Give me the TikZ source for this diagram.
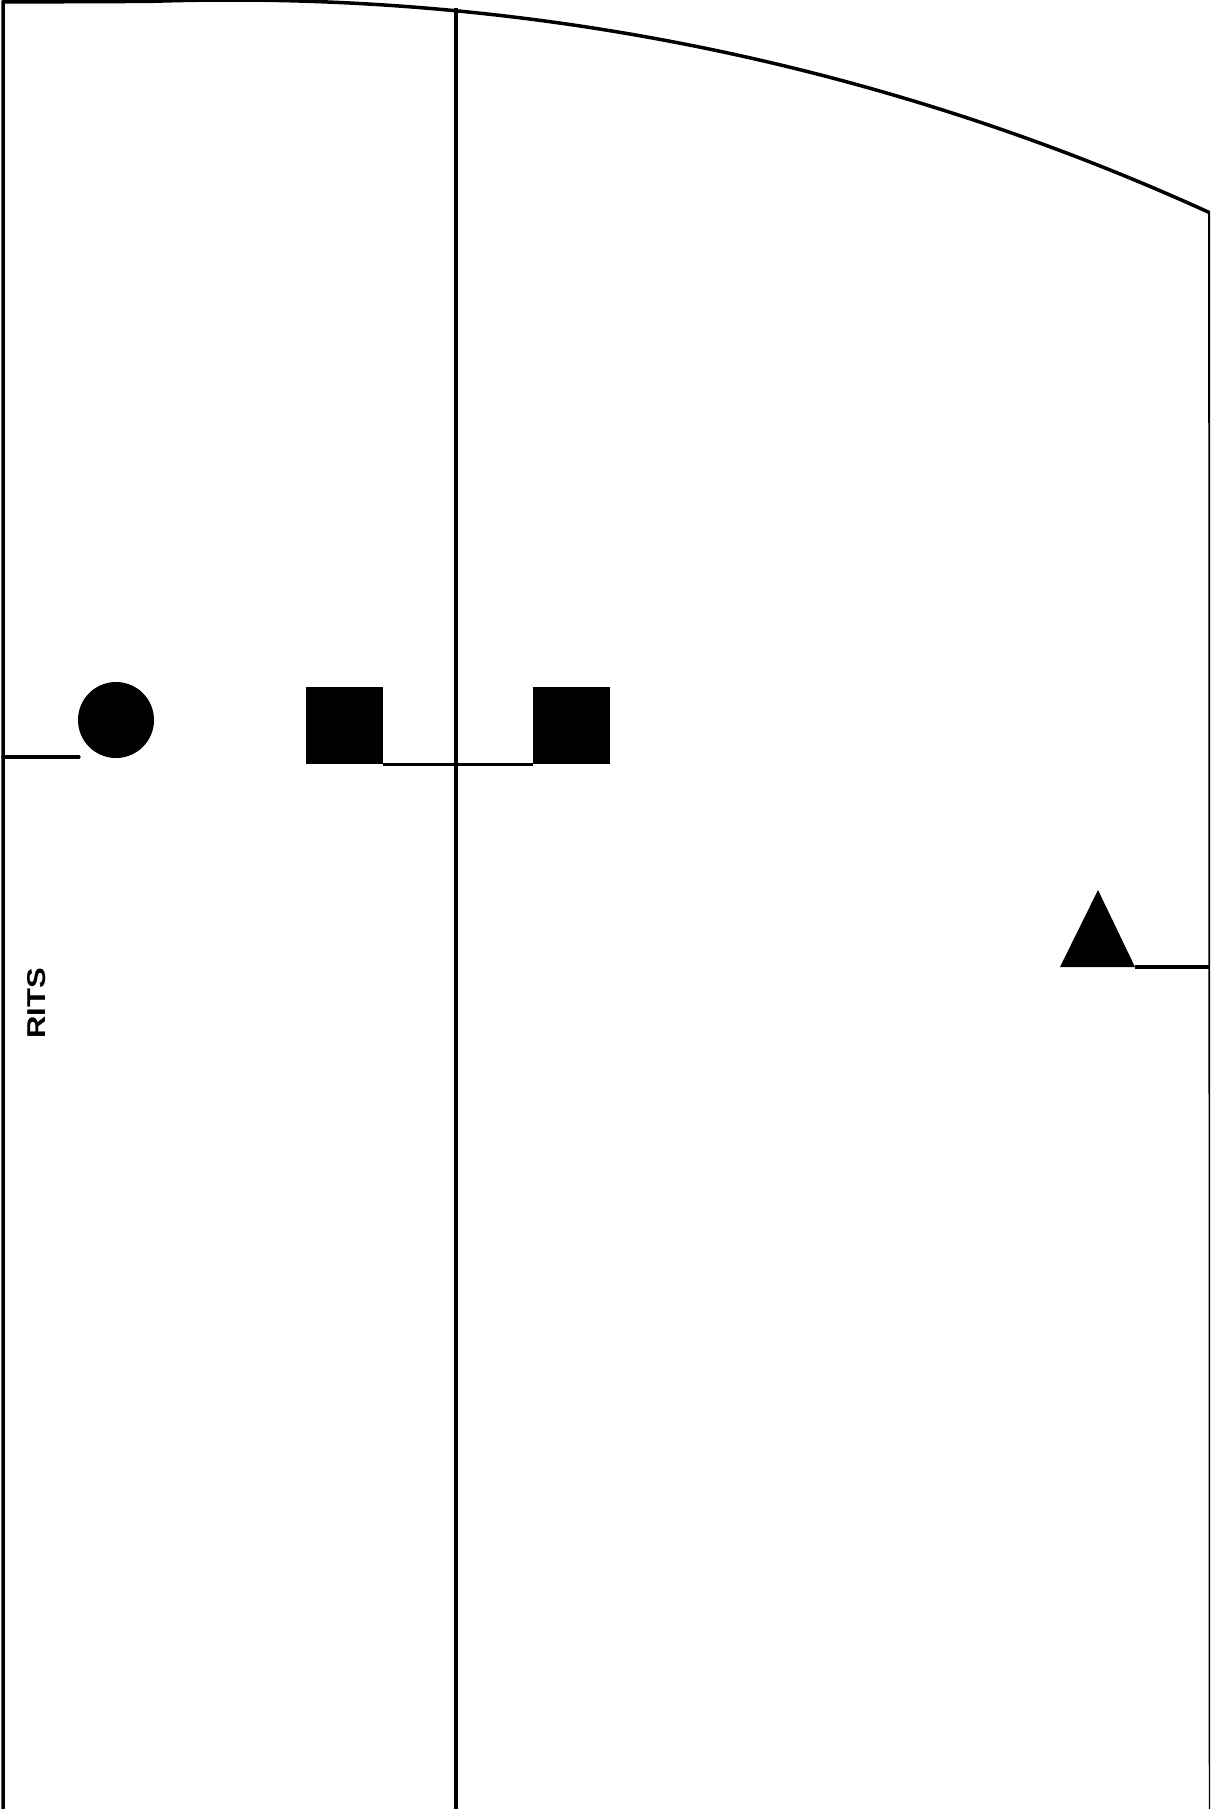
\documentclass[tikz,border=0pt]{standalone}
\usepackage{fontspec}
\setmainfont{Liberation Sans}
\usetikzlibrary{positioning}

\begin{document}
\begin{tikzpicture}[
    x=1pt, y=1pt,
    wall/.style={line width=3.5pt, line join=miter},
    link/.style={line width=3.2pt},
    lampdot/.style={circle, fill=black, inner sep=0pt, minimum size=76pt},
    block/.style={rectangle, fill=black, inner sep=0pt, minimum size=77pt},
    tag/.style={rotate=90, inner sep=0pt, font=\fontsize{25.8}{30}\selectfont\bfseries}
  ]
  \useasboundingbox (0,0) rectangle (1210,-1809);
  \clip (0,0) rectangle (1210,-1809);

  \draw[wall] (3,-1809) -- (3,-2) -- (150,-1.4)
    arc[start angle=91.97, end angle=65.48, radius=2358.8pt] -- (1210.5,-1809);
  \draw[wall] (456,-8) -- (456,-1809);

  \node[lampdot] (lamp) at (116,-720) {};
  \node[block] (boxA) at (344.5,-725.5) {};
  \node[block, right=150pt of boxA] (boxB) {};
  \fill (1060,-967) -- (1098,-890) -- (1135,-967) -- cycle;
  \coordinate (triR) at (1135,-967);

  \coordinate (wallL) at (3,-757);
  \coordinate (lampfoot) at (79,-757);
  \coordinate (wallR) at (1210,-967);

  \draw[link] (boxA.south east) -- (boxB.south west);
  \draw[link, line cap=round] (wallL) -- (lampfoot);
  \draw[link] (triR) -- (wallR);

  \node[tag] (rits) at (37,-1003.5) {\scalebox{1.2}[1]{RITS}};
\end{tikzpicture}
\end{document}
